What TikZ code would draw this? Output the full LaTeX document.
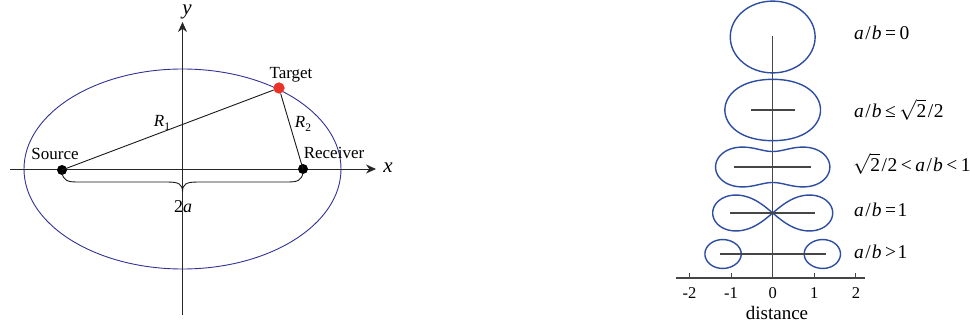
\documentclass[tikz,border=0pt]{standalone}
\usepackage{fontspec}
\setmainfont{Liberation Serif}
\usetikzlibrary{arrows.meta}
\definecolor{ellblue}{RGB}{50,50,150}
\definecolor{curveblue}{RGB}{45,78,160}
\definecolor{tgtred}{RGB}{235,50,40}
\definecolor{axgray}{RGB}{70,70,70}
\newcommand\mysub[1]{\raisebox{-0.45ex}{\fontsize{11.5}{11.5}\selectfont #1}}
\newcommand\ab{\textit{a}\kern1.5pt/\kern1pt\textit{b}}
\newcommand\rtwo{$\sqrt{\mbox{2}}$\kern1.5pt/\kern0.5pt2}
\newcommand\rel[1]{\kern3.5pt#1\kern3.5pt}
\begin{document}
\begin{tikzpicture}[x=1pt,y=-1pt,
  axis/.style={line width=0.9pt,black!85},
  raxis/.style={line width=1.1pt,axgray},
  ell/.style={line width=0.9pt,ellblue},
  curve/.style={line width=1.4pt,curveblue,line join=round},
  seg/.style={line width=0.9pt,black!90},
  dotb/.style={circle,fill=black,inner sep=0pt,minimum size=10pt},
  dotr/.style={circle,fill=tgtred,inner sep=0pt,minimum size=11pt},
  lbl/.style={inner sep=0pt,font=\fontsize{17}{19}\selectfont},
  rlbl/.style={inner sep=0pt,anchor=west,font=\fontsize{19.5}{21}\selectfont},
  tick/.style={inner sep=0pt,font=\fontsize{16.5}{18}\selectfont},
  declare function={
    cassr(\qt,\qa,\qb)=sqrt(\qa*\qa*cos(2*\qt)+sqrt(\qb*\qb*\qb*\qb-\qa*\qa*\qa*\qa*sin(2*\qt)*sin(2*\qt)));
    wmag(\qt,\qa,\qb)=sqrt(sqrt((\qa*\qa+\qb*\qb*cos(\qt))*(\qa*\qa+\qb*\qb*cos(\qt))+(\qb*\qb*sin(\qt))*(\qb*\qb*sin(\qt))));
    wang(\qt,\qa,\qb)=atan2(\qb*\qb*sin(\qt),\qa*\qa+\qb*\qb*cos(\qt))/2;
  }]
\useasboundingbox (0,0) rectangle (970,329);

% ---------- left figure ----------
\draw[ell] (182.5,169) ellipse [x radius=158.5, y radius=100];
\coordinate (xl) at (10,169);
\coordinate (xr) at (376,169);
\coordinate (yb) at (182.5,315);
\coordinate (yt) at (182.5,22);
\draw[axis,-{Stealth[length=10pt,width=9pt]}] (xl) -- (xr);
\draw[axis,-{Stealth[length=10pt,width=9pt]}] (yb) -- (yt);
\node[inner sep=0pt,font=\fontsize{21}{23}\selectfont\itshape] (xlab) at (388,168) {x};
\node[inner sep=0pt,font=\fontsize{21}{23}\selectfont\itshape] (ylab) at (187,12) {y};

\node[dotb] (src) at (62,170) {};
\node[dotb] (rcv) at (303,169) {};
\node[dotr] (tgt) at (279,88) {};
\draw[seg] (src.center) -- (tgt);
\draw[seg] (tgt) -- (rcv.center);
\node[dotr] at (tgt) {};

\node[lbl] (srcl) at (55,154) {Source};
\node[lbl] (rcvl) at (334,153) {Receiver};
\node[lbl] (tgtl) at (291,75) {Target};
\node[lbl] (r1) at (162,123) {\textit{R}\mysub{1}};
\node[lbl] (r2) at (303,124) {\textit{R}\mysub{2}};

\draw[seg] (62,172) .. controls (63,181) and (68,182) .. (78,182) -- (167,182)
  .. controls (179,182) and (182.5,184) .. (182.5,192)
  .. controls (182.5,184) and (186,182) .. (198,182) -- (287,182)
  .. controls (297,182) and (302,181) .. (303,172);
\node[lbl,font=\fontsize{18}{20}\selectfont] (twoa) at (183,207) {2\textit{a}};

% ---------- right figure ----------
\coordinate (hl) at (676,278);
\coordinate (hr) at (865,278);
\coordinate (vt) at (772.7,36);
\draw[raxis] (hl) -- (hr);
\draw[raxis] (vt) -- (772.7,278);
\foreach \k/\t in {-2/-2,-1/-1,0/0,1/1,2/2}{
  \draw[raxis] ({772.7+41.6*\k},278) -- ({772.7+41.6*\k},273);
  \node[tick] (tk\k) at ({772.7+41.6*\k},293) {\t};
}
\node[inner sep=0pt,font=\fontsize{19}{21}\selectfont] (dist) at (777,313) {distance};

% shape 1: a/b = 0
\begin{scope}[shift={(772.7pt,-37pt)},x=41.6pt,y=35.2pt]
  \draw[curve] (0,0) ellipse [x radius=1.02, y radius=1.02];
\end{scope}
% shape 2
\begin{scope}[shift={(772.7pt,-110pt)},x=41.6pt,y=35.2pt]
  \draw[curve] plot[domain=0:360,samples=181,variable=\t]
    ({cassr(\t,0.53,1.02)*cos(\t)},{cassr(\t,0.53,1.02)*sin(\t)}) -- cycle;
  \draw[raxis] (-0.53,0) -- (0.53,0);
\end{scope}
% shape 3
\begin{scope}[shift={(772.7pt,-167pt)},x=41.6pt,y=35.2pt]
  \draw[curve] plot[domain=0:360,samples=241,variable=\t]
    ({cassr(\t,0.92,1.02)*cos(\t)},{cassr(\t,0.92,1.02)*sin(\t)}) -- cycle;
  \draw[raxis] (-0.92,0) -- (0.92,0);
\end{scope}
% shape 4: lemniscate
\begin{scope}[shift={(772.7pt,-213pt)},x=41.6pt,y=35.2pt]
  \draw[curve] plot[domain=0:360,samples=241,variable=\t]
    ({1.4142*1.02*cos(\t)/(1+sin(\t)*sin(\t))},{1.4142*1.02*sin(\t)*cos(\t)/(1+sin(\t)*sin(\t))}) -- cycle;
  \draw[raxis] (-1.02,0) -- (1.02,0);
\end{scope}
% shape 5: two ovals
\begin{scope}[shift={(772.7pt,-254pt)},x=41.6pt,y=35.2pt]
  \draw[curve] plot[domain=0:360,samples=181,variable=\t]
    ({wmag(\t,1.27,1.02)*cos(wang(\t,1.27,1.02))},{wmag(\t,1.27,1.02)*sin(wang(\t,1.27,1.02))}) -- cycle;
  \draw[curve] plot[domain=0:360,samples=181,variable=\t]
    ({-wmag(\t,1.27,1.02)*cos(wang(\t,1.27,1.02))},{-wmag(\t,1.27,1.02)*sin(wang(\t,1.27,1.02))}) -- cycle;
  \draw[raxis] (-1.27,0) -- (1.27,0);
\end{scope}

\node[rlbl] (l0) at (854,33) {\ab\rel{=}0};
\node[rlbl] (l1) at (854,110) {\ab\rel{≤}\rtwo};
\node[rlbl] (l2) at (853,164) {\rtwo\rel{<}\ab\rel{<}1};
\node[rlbl] (l3) at (854,210) {\ab\kern3.5pt=\kern1.5pt1};
\node[rlbl] (l4) at (854,252) {\ab\kern3.5pt>\kern1.5pt1};
\end{tikzpicture}
\end{document}
